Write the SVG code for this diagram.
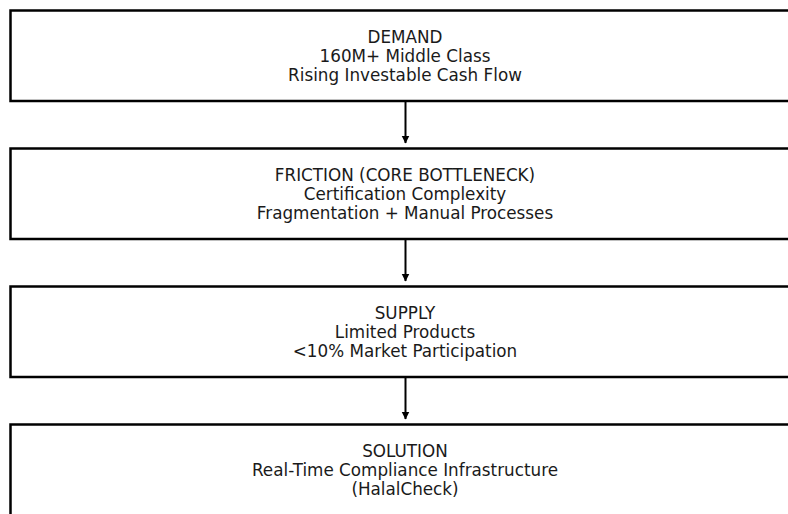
<svg xmlns="http://www.w3.org/2000/svg" width="788" height="514" viewBox="0 0 788 514">
  <style>
    .box { fill: #ffffff; stroke: #000000; stroke-width: 2.5; }
    .label { font-family: "DejaVu Sans", sans-serif; font-size: 16.8px; fill: #1a1a1a; text-anchor: middle; }
    .edge { stroke: #000000; stroke-width: 2; fill: none; }
  </style>
  <defs>
    <marker id="arrow" markerWidth="8" markerHeight="9" refX="7.5" refY="4" orient="auto" markerUnits="userSpaceOnUse" viewBox="0 0 8 8">
      <path d="M0,0 L8,4 L0,8 Z" fill="#000000"/>
    </marker>
  </defs>
  <rect width="788" height="514" fill="#ffffff"/>

  <g id="demand">
    <rect class="box" x="10.5" y="10.5" width="790" height="90.5"/>
    <text class="label" x="405" y="42.5">DEMAND</text>
    <text class="label" x="405" y="61.7">160M+ Middle Class</text>
    <text class="label" x="405" y="80.9">Rising Investable Cash Flow</text>
  </g>

  <g id="friction">
    <rect class="box" x="10.5" y="148.5" width="790" height="90.5"/>
    <text class="label" x="405" y="180.5">FRICTION (CORE BOTTLENECK)</text>
    <text class="label" x="405" y="199.7">Certification Complexity</text>
    <text class="label" x="405" y="218.9">Fragmentation + Manual Processes</text>
  </g>

  <g id="supply">
    <rect class="box" x="10.5" y="286.5" width="790" height="90.5"/>
    <text class="label" x="405" y="318.5">SUPPLY</text>
    <text class="label" x="405" y="337.7">Limited Products</text>
    <text class="label" x="405" y="356.9">&lt;10% Market Participation</text>
  </g>

  <g id="solution">
    <rect class="box" x="10.5" y="424.5" width="790" height="100"/>
    <text class="label" x="405" y="456.5">SOLUTION</text>
    <text class="label" x="405" y="475.7">Real-Time Compliance Infrastructure</text>
    <text class="label" x="405" y="494.9">(HalalCheck)</text>
  </g>

  <g id="connectors">
    <line class="edge" x1="405.5" y1="102" x2="405.5" y2="143" marker-end="url(#arrow)"/>
    <line class="edge" x1="405.5" y1="240" x2="405.5" y2="281" marker-end="url(#arrow)"/>
    <line class="edge" x1="405.5" y1="378" x2="405.5" y2="419" marker-end="url(#arrow)"/>
  </g>
</svg>
